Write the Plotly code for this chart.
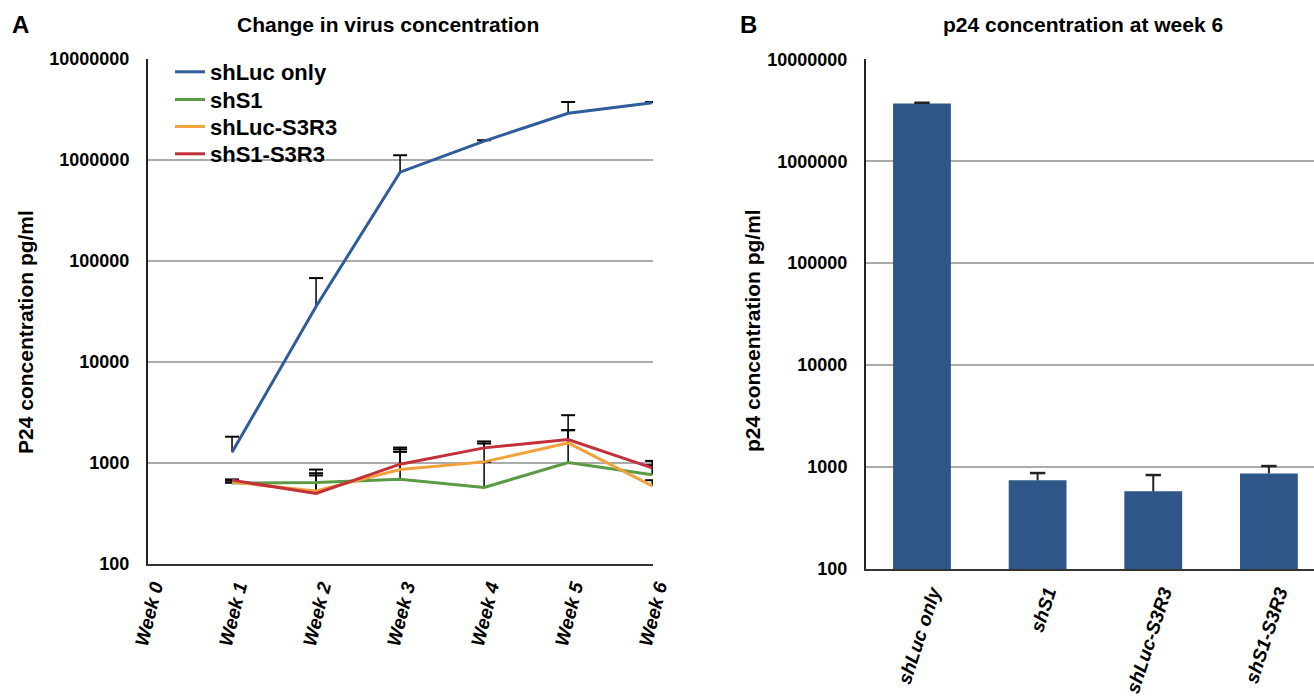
import plotly.graph_objects as go

W, H = 1314, 699

# ---------------- data ----------------
week_vals = [0, 1, 2, 3, 4, 5, 6]
week_labels = ["Week 0", "Week 1", "Week 2", "Week 3", "Week 4", "Week 5", "Week 6"]
weeks = [1, 2, 3, 4, 5, 6]

shLuc_only = [1260, 35000, 750000, 1520000, 2870000, 3640000]
shLuc_only_top = [1800, 67000, 1100000, 1550000, 3700000, 3700000]
shS1 = [625, 633, 684, 565, 1000, 755]
shS1_top = [630, 744, 1273, 1014, 2090, 940]
shLuc_S3R3 = [640, 523, 851, 1014, 1562, 586]
shLuc_S3R3_top = [660, 783, 1350, 1541, 2940, 668]
shS1_S3R3 = [669, 493, 962, 1396, 1687, 885]
shS1_S3R3_top = [680, 851, 1406, 1616, 2090, 1037]

groups = ["shLuc only", "shS1", "shLuc-S3R3", "shS1-S3R3"]
week6_vals = [3680000, 741, 578, 867]
week6_top = [3750000, 873, 835, 1023]

y_tickvals = [100, 1000, 10000, 100000, 1000000, 10000000]
y_ticktext = ["100", "1000", "10000", "100000", "1000000", "10000000"]

series = [
    ("shLuc only", shLuc_only, shLuc_only_top, "#2F5C9A"),
    ("shS1", shS1, shS1_top, "#5B9A45"),
    ("shLuc-S3R3", shLuc_S3R3, shLuc_S3R3_top, "#F0A23C"),
    ("shS1-S3R3", shS1_S3R3, shS1_S3R3_top, "#C2303A"),
]

FONT = "Liberation Sans"
fig = go.Figure()


def px(x):
    return x / W


def py(y):
    return 1 - y / H


def plus_error_trace(xs, vals, tops, xaxis, yaxis, color="black", width=1.5, cap=10):
    """Upper-only error bars: a stem from the value to the top, with a cap."""
    ex, ey = [], []
    for x, v, t in zip(xs, vals, tops):
        ex += [x, x, None]
        ey += [v, t, None]
    stems = go.Scatter(x=ex, y=ey, mode="lines", line=dict(color=color, width=width),
                       xaxis=xaxis, yaxis=yaxis, showlegend=False, hoverinfo="skip")
    caps = go.Scatter(x=list(xs), y=list(tops), mode="markers",
                      marker=dict(symbol="line-ew", size=cap,
                                  line=dict(color=color, width=width + 0.5)),
                      xaxis=xaxis, yaxis=yaxis, showlegend=False, hoverinfo="skip")
    return [stems, caps]


# error bars first (under the lines)
for name, vals, tops, color in series:
    for tr in plus_error_trace(weeks, vals, tops, "x", "y"):
        fig.add_trace(tr)

legend_names = ["legend", "legend2", "legend3", "legend4"]
for (name, vals, tops, color), lg in zip(series, legend_names):
    fig.add_trace(go.Scatter(
        x=weeks, y=vals, name=name, mode="lines",
        line=dict(color=color, width=3),
        xaxis="x", yaxis="y", legend=lg,
    ))

fig.add_trace(go.Bar(
    x=list(range(len(groups))), y=week6_vals, name="week 6",
    marker=dict(color="#2E5788", line=dict(width=0)),
    xaxis="x2", yaxis="y2", showlegend=False,
))
for tr in plus_error_trace(list(range(len(groups))), week6_vals, week6_top,
                           "x2", "y2", color="#222222", width=2, cap=11):
    fig.add_trace(tr)

tickfont = dict(family=FONT, size=18, color="black", weight="bold")
xtickfont = dict(family=FONT, size=19, color="black", weight="bold", style="italic")

legend_rows = [72, 99.7, 126.7, 154]
legend_layout = {}
for lg, row in zip(legend_names, legend_rows):
    legend_layout[lg] = dict(x=px(170), y=py(row), xanchor="left", yanchor="middle",
                             bgcolor="rgba(0,0,0,0)",
                             font=dict(family=FONT, size=22, color="black", weight="bold"))

fig.update_layout(
    width=W, height=H,
    margin=dict(l=0, r=0, t=0, b=0, autoexpand=False),
    paper_bgcolor="white", plot_bgcolor="white",
    bargap=0.5,
    showlegend=True,
    xaxis=dict(domain=[px(148), px(653)], range=[0, 6.01],
               tickvals=week_vals, ticktext=week_labels, tickangle=-76,
               tickfont=xtickfont, showgrid=False, zeroline=False,
               showline=True, linecolor="#333333", linewidth=2,
               ticks="", ticklabelstandoff=3, ticklabelshift=6, automargin=False),
    yaxis=dict(domain=[py(563.5), py(58.5)], type="log", range=[2, 7],
               tickvals=y_tickvals, ticktext=y_ticktext, tickfont=tickfont,
               showgrid=True, gridcolor="#ABABAB", gridwidth=1.5,
               showline=True, linecolor="#222222", linewidth=2,
               ticks="", ticklabelstandoff=13, zeroline=False, automargin=False),
    xaxis2=dict(domain=[px(866), 1.0], range=[-0.484, 3.39],
                tickvals=list(range(len(groups))), ticktext=groups, tickangle=-72,
                tickfont=xtickfont, showgrid=False, zeroline=False,
                showline=True, linecolor="#333333", linewidth=2,
                ticks="", ticklabelstandoff=3, ticklabelshift=10,
                automargin=False, anchor="y2"),
    yaxis2=dict(domain=[py(569), py(59.3)], type="log", range=[2, 7],
                tickvals=y_tickvals, ticktext=y_ticktext, tickfont=tickfont,
                showgrid=True, gridcolor="#ABABAB", gridwidth=1.5,
                showline=True, linecolor="#222222", linewidth=2,
                ticks="", ticklabelstandoff=13, zeroline=False,
                anchor="x2", automargin=False),
    **legend_layout,
)

ann_font = dict(family=FONT, color="black", weight="bold")
annotations = [
    dict(text="A", x=px(10), y=py(25), xanchor="left", yanchor="middle",
         font=dict(size=24, **ann_font)),
    dict(text="B", x=px(738), y=py(25), xanchor="left", yanchor="middle",
         font=dict(size=24, **ann_font)),
    dict(text="Change in virus concentration", x=px(388), y=py(25),
         xanchor="center", yanchor="middle", font=dict(size=21, **ann_font)),
    dict(text="p24 concentration at week 6", x=px(1083), y=py(25),
         xanchor="center", yanchor="middle", font=dict(size=21, **ann_font)),
    dict(text="P24 concentration pg/ml", x=px(25), y=py(332), textangle=-90,
         xanchor="center", yanchor="middle", font=dict(size=21, **ann_font)),
    dict(text="p24 concentration pg/ml", x=px(753), y=py(331), textangle=-90,
         xanchor="center", yanchor="middle", font=dict(size=21, **ann_font)),
]
for a in annotations:
    a.update(xref="paper", yref="paper", showarrow=False)
fig.update_layout(annotations=annotations)

fig.write_html("out.html")
